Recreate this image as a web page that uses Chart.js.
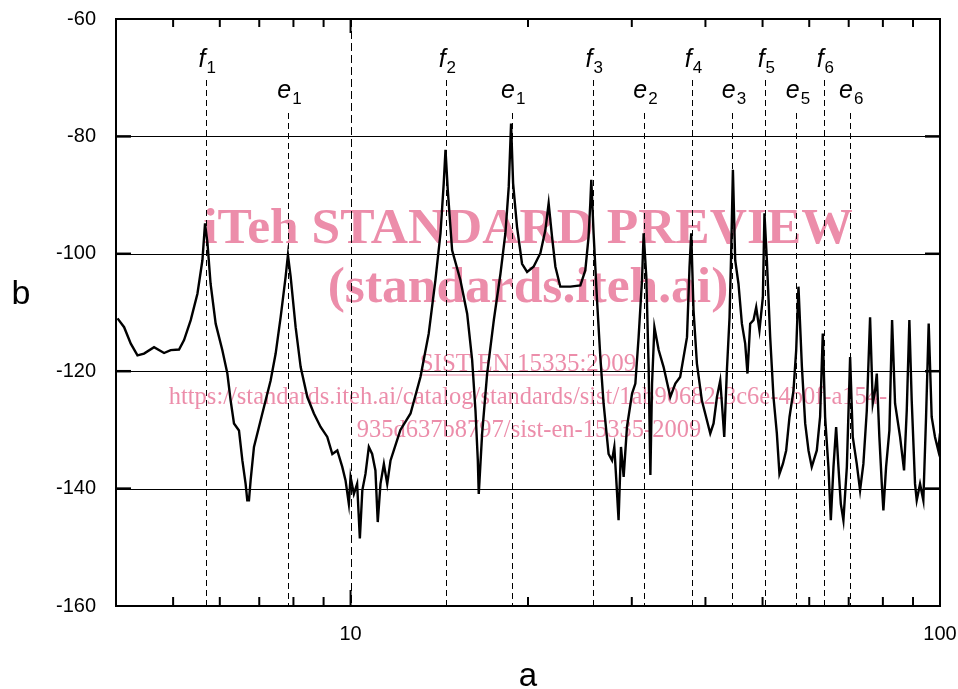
<!DOCTYPE html>
<html>
<head>
<meta charset="utf-8">
<script src="https://cdn.jsdelivr.net/npm/chart.js@4.4.1/dist/chart.umd.min.js"></script>
<style>
  html, body { margin: 0; padding: 0; background: #fff; }
  #chart { display: block; }
</style>
</head>
<body>
<canvas id="chart" width="958" height="689"></canvas>
<script>
// spectrum: frequency (a) and level (b)
const freq = [
  4.024, 4.129, 4.238, 4.350, 4.463, 4.641, 4.826, 4.953, 5.117, 5.218,
  5.356, 5.498, 5.606, 5.664, 5.718, 5.788, 5.904, 6.059, 6.180, 6.260,
  6.342, 6.467, 6.553, 6.637, 6.680, 6.724, 6.769, 6.857, 6.992, 7.130,
  7.318, 7.463, 7.610, 7.760, 7.830, 7.913, 8.069, 8.229, 8.446, 8.666,
  8.896, 9.131, 9.312, 9.495, 9.681, 9.806, 9.933, 10.00, 10.13, 10.26,
  10.37, 10.47, 10.60, 10.74, 10.88, 11.02, 11.12, 11.24, 11.39, 11.54,
  11.69, 11.84, 12.15, 12.64, 13.14, 13.57, 13.93, 14.21, 14.39, 14.49,
  14.62, 14.87, 15.36, 15.77, 16.08, 16.29, 16.44, 16.50, 16.72, 17.05,
  17.50, 17.96, 18.31, 18.55, 18.72, 18.87, 19.16, 19.54, 19.93, 20.44,
  20.99, 21.40, 21.68, 21.97, 22.26, 22.69, 23.60, 24.54, 25.02, 25.34,
  25.51, 25.61, 25.84, 26.19, 26.53, 26.87, 27.40, 27.77, 28.02, 28.24,
  28.49, 28.76, 29.06, 29.44, 30.03, 30.42, 30.81, 31.22, 31.42, 31.75,
  32.04, 32.26, 32.47, 32.77, 33.32, 33.97, 34.87, 35.56, 36.24, 37.22,
  37.59, 37.84, 38.18, 38.69, 39.45, 40.24, 40.76, 41.29, 41.84, 42.38,
  42.66, 43.05, 43.50, 43.95, 44.24, 44.53, 44.93, 45.51, 46.12, 46.72,
  47.14, 47.64, 48.26, 48.77, 49.40, 50.06, 50.37, 50.85, 51.51, 52.18,
  52.87, 53.41, 54.13, 54.83, 55.55, 56.42, 57.02, 57.53, 58.31, 59.06,
  59.83, 60.59, 61.80, 62.60, 63.26, 63.84, 64.67, 65.28, 65.96, 66.65,
  67.25, 67.88, 68.57, 69.50, 70.39, 71.12, 72.24, 73.18, 74.13, 75.13,
  76.10, 76.90, 77.60, 78.12, 78.91, 79.66, 80.16, 81.01, 82.06, 82.93,
  83.90, 85.56, 86.90, 87.82, 88.72, 89.54, 90.71, 91.31, 92.50, 93.70,
  94.70, 95.68, 96.80, 98.06, 99.33, 100.0
];
const level = [
  -111.0, -112.5, -115.3, -117.3, -117.0, -115.9, -116.9, -116.4, -116.3, -114.7,
  -111.3, -106.8, -101.1, -94.8, -98.2, -105.1, -111.9, -116.4, -120.4, -125.0,
  -128.9, -130.1, -135.2, -139.2, -142.0, -142.0, -138.5, -132.9, -129.5, -126.1,
  -121.6, -117.0, -110.8, -103.9, -100.2, -103.9, -112.5, -119.3, -124.4, -127.2,
  -129.5, -131.2, -134.1, -133.5, -136.3, -138.6, -142.6, -138.0, -140.9, -139.2,
  -148.5, -140.3, -137.5, -132.9, -134.1, -136.9, -145.7, -139.2, -135.8, -139.2,
  -135.2, -133.5, -130.0, -127.2, -121.0, -113.6, -104.5, -96.5, -88.0, -82.3,
  -89.2, -99.4, -104.5, -110.2, -118.1, -126.7, -135.2, -140.9, -130.6, -120.4,
  -111.3, -103.4, -96.5, -88.6, -77.8, -88.0, -95.4, -101.7, -103.1, -102.2,
  -99.9, -96.0, -91.4, -97.1, -102.2, -105.6, -105.6, -105.4, -102.8, -97.1,
  -91.4, -87.4, -96.5, -107.9, -117.6, -125.5, -134.1, -135.2, -132.9, -138.6,
  -145.4, -132.9, -138.0, -129.5, -123.8, -122.1, -114.2, -104.5, -96.5, -103.9,
  -119.3, -137.7, -122.1, -112.5, -116.4, -119.3, -124.4, -122.1, -121.0, -114.2,
  -102.2, -96.5, -109.6, -118.7, -125.0, -128.4, -130.6, -128.9, -124.4, -121.6,
  -125.5, -131.2, -119.8, -110.8, -99.4, -85.7, -101.1, -105.1, -111.9, -115.3,
  -120.4, -111.9, -111.3, -109.1, -113.0, -107.4, -93.1, -101.1, -114.2, -124.4,
  -130.6, -137.5, -135.8, -133.5, -127.8, -123.3, -116.4, -105.6, -119.3, -128.9,
  -133.5, -136.3, -133.5, -127.8, -113.6, -127.8, -136.3, -145.4, -136.3, -129.5,
  -136.3, -142.6, -145.4, -136.3, -117.6, -131.2, -135.8, -140.3, -135.8, -126.7,
  -110.8, -125.5, -123.3, -120.4, -131.2, -139.2, -143.7, -136.3, -130.1, -111.3,
  -125.5, -131.2, -136.9, -126.7, -111.3, -125.0, -139.2, -142.0, -139.2, -142.0,
  -127.8, -111.9, -127.8, -131.2, -133.5, -130.6
];

// marked resonances
const markerLetter = ['f', 'e', 'f', 'e', 'f', 'e', 'f', 'e', 'f', 'e', 'f', 'e'];
const markerIndex  = ['1', '1', '2', '1', '3', '2', '4', '3', '5', '5', '6', '6'];
const markerFreq   = [5.68, 7.83, 14.51, 18.77, 25.75, 31.46, 37.95, 44.46, 50.45, 57.08, 63.53, 70.29];

// axes
const xMin = 4, xMax = 100;
const yMin = -160, yMax = -60, yStep = 20;
const xLabelTicks = [10, 100];
const xMajorTicks = [10];
const xMinorTicks = [5, 6, 7, 8, 9, 20, 30, 40, 50, 60, 70, 80, 90];
const yLabelTicks = [-60, -80, -100, -120, -140, -160];
const yGridTicks = [-80, -100, -120, -140];

const watermark = [
  'iTeh STANDARD PREVIEW',
  '(standards.iteh.ai)',
  'SIST EN 15335:2009',
  'https://standards.iteh.ai/catalog/standards/sist/1ab90682-3c6e-4b0f-a154-',
  '935d637b8797/sist-en-15335-2009'
];

const SANS = '"Liberation Sans", Arial, sans-serif';
const SERIF = '"Liberation Serif", "Times New Roman", serif';

const points = freq.map((f, i) => ({ x: f, y: level[i] }));

const decor = {
  id: 'decor',
  beforeDatasetsDraw(chart) {
    const { ctx, chartArea: a, scales: { x, y } } = chart;
    ctx.save();
    // horizontal grid
    ctx.strokeStyle = '#000';
    ctx.lineWidth = 1;
    yGridTicks.forEach(v => {
      const py = Math.round(y.getPixelForValue(v)) + 0.5;
      ctx.beginPath(); ctx.moveTo(a.left, py); ctx.lineTo(a.right, py); ctx.stroke();
    });
    // dashed decade line
    ctx.setLineDash([8, 4]);
    xMajorTicks.forEach(v => {
      const px = Math.round(x.getPixelForValue(v)) + 0.5;
      ctx.beginPath(); ctx.moveTo(px, a.top); ctx.lineTo(px, a.bottom); ctx.stroke();
    });
    // resonance markers
    ctx.setLineDash([6, 4]);
    markerFreq.forEach((f, i) => {
      const px = Math.round(x.getPixelForValue(f)) + 0.5;
      const isF = markerLetter[i] === 'f';
      const top = a.top + (isF ? 61 : 94);
      ctx.beginPath(); ctx.moveTo(px, top); ctx.lineTo(px, a.bottom); ctx.stroke();
    });
    ctx.setLineDash([]);
    ctx.fillStyle = '#000';
    ctx.textBaseline = 'alphabetic';
    ctx.textAlign = 'left';
    markerFreq.forEach((f, i) => {
      const px = x.getPixelForValue(f);
      const isF = markerLetter[i] === 'f';
      const base = a.top + (isF ? 48 : 79);
      ctx.font = 'italic 25px ' + SANS;
      const w1 = ctx.measureText(markerLetter[i]).width;
      ctx.font = '17px ' + SANS;
      const w2 = ctx.measureText(markerIndex[i]).width;
      const x0 = px - (w1 + w2) / 2 + 1;
      ctx.font = 'italic 25px ' + SANS;
      ctx.fillText(markerLetter[i], x0, base);
      ctx.font = '17px ' + SANS;
      ctx.fillText(markerIndex[i], x0 + w1 + 1, base + 6);
    });
    ctx.restore();
  },
  afterDatasetsDraw(chart) {
    const { ctx, chartArea: a, scales: { x, y } } = chart;
    ctx.save();
    // frame
    ctx.strokeStyle = '#000';
    ctx.lineWidth = 2;
    ctx.strokeRect(a.left, a.top, a.right - a.left, a.bottom - a.top);
    // inward ticks
    const tick = (x1, y1, x2, y2) => { ctx.beginPath(); ctx.moveTo(x1, y1); ctx.lineTo(x2, y2); ctx.stroke(); };
    xMinorTicks.forEach(v => {
      const px = x.getPixelForValue(v);
      tick(px, a.bottom, px, a.bottom - 9);
      tick(px, a.top, px, a.top + 8);
    });
    xMajorTicks.forEach(v => {
      const px = x.getPixelForValue(v);
      tick(px, a.bottom, px, a.bottom - 16);
      tick(px, a.top, px, a.top + 14);
    });
    ctx.lineWidth = 2.5;
    yGridTicks.forEach(v => {
      const py = y.getPixelForValue(v);
      tick(a.left, py, a.left + 15, py);
      tick(a.right, py, a.right - 15, py);
    });
    // tick labels
    ctx.fillStyle = '#000';
    ctx.font = '20px ' + SANS;
    ctx.textAlign = 'right';
    ctx.textBaseline = 'middle';
    yLabelTicks.forEach(v => {
      ctx.fillText(String(v), a.left - 20, y.getPixelForValue(v));
    });
    ctx.textAlign = 'center';
    ctx.textBaseline = 'alphabetic';
    xLabelTicks.forEach(v => {
      ctx.fillText(String(v), x.getPixelForValue(v), a.bottom + 34);
    });
    // axis titles
    ctx.font = '34px ' + SANS;
    ctx.fillText('b', 21, (a.top + a.bottom) / 2 - 9);
    ctx.font = '33px ' + SANS;
    ctx.fillText('a', (a.left + a.right) / 2, 686);
    // watermark
    ctx.globalCompositeOperation = 'multiply';
    ctx.fillStyle = 'rgb(236,141,170)';
    ctx.strokeStyle = 'rgb(236,141,170)';
    const cx = (a.left + a.right) / 2;
    ctx.font = 'bold 51.5px ' + SERIF;
    ctx.fillText(watermark[0], cx, a.top + 224);
    ctx.fillText(watermark[1], cx, a.top + 283);
    ctx.font = '25px ' + SERIF;
    ctx.fillText(watermark[2], cx, a.top + 352);
    const uw = ctx.measureText(watermark[2]).width;
    ctx.lineWidth = 1.2;
    tick(cx - uw / 2, a.top + 356, cx + uw / 2, a.top + 356);
    ctx.font = '24.5px ' + SERIF;
    ctx.fillText(watermark[3], cx, a.top + 385);
    ctx.fillText(watermark[4], cx + 1, a.top + 418);
    ctx.restore();
  }
};

new Chart(document.getElementById('chart'), {
  type: 'line',
  data: {
    datasets: [{
      data: points,
      borderColor: '#000',
      borderWidth: 2.4,
      pointRadius: 0,
      fill: false,
      tension: 0
    }]
  },
  options: {
    responsive: false,
    animation: false,
    devicePixelRatio: 1,
    layout: { padding: { top: 19, right: 18, left: 0, bottom: 0 } },
    plugins: { legend: { display: false }, tooltip: { enabled: false } },
    scales: {
      x: {
        type: 'logarithmic',
        min: xMin,
        max: xMax,
        afterFit: s => { s.height = 83; },
        grid: { display: false, drawTicks: false },
        border: { display: false },
        ticks: { display: false }
      },
      y: {
        min: yMin,
        max: yMax,
        afterFit: s => { s.width = 116; },
        grid: { display: false, drawTicks: false },
        border: { display: false },
        ticks: { display: false, stepSize: yStep }
      }
    }
  },
  plugins: [decor]
});
</script>
</body>
</html>
